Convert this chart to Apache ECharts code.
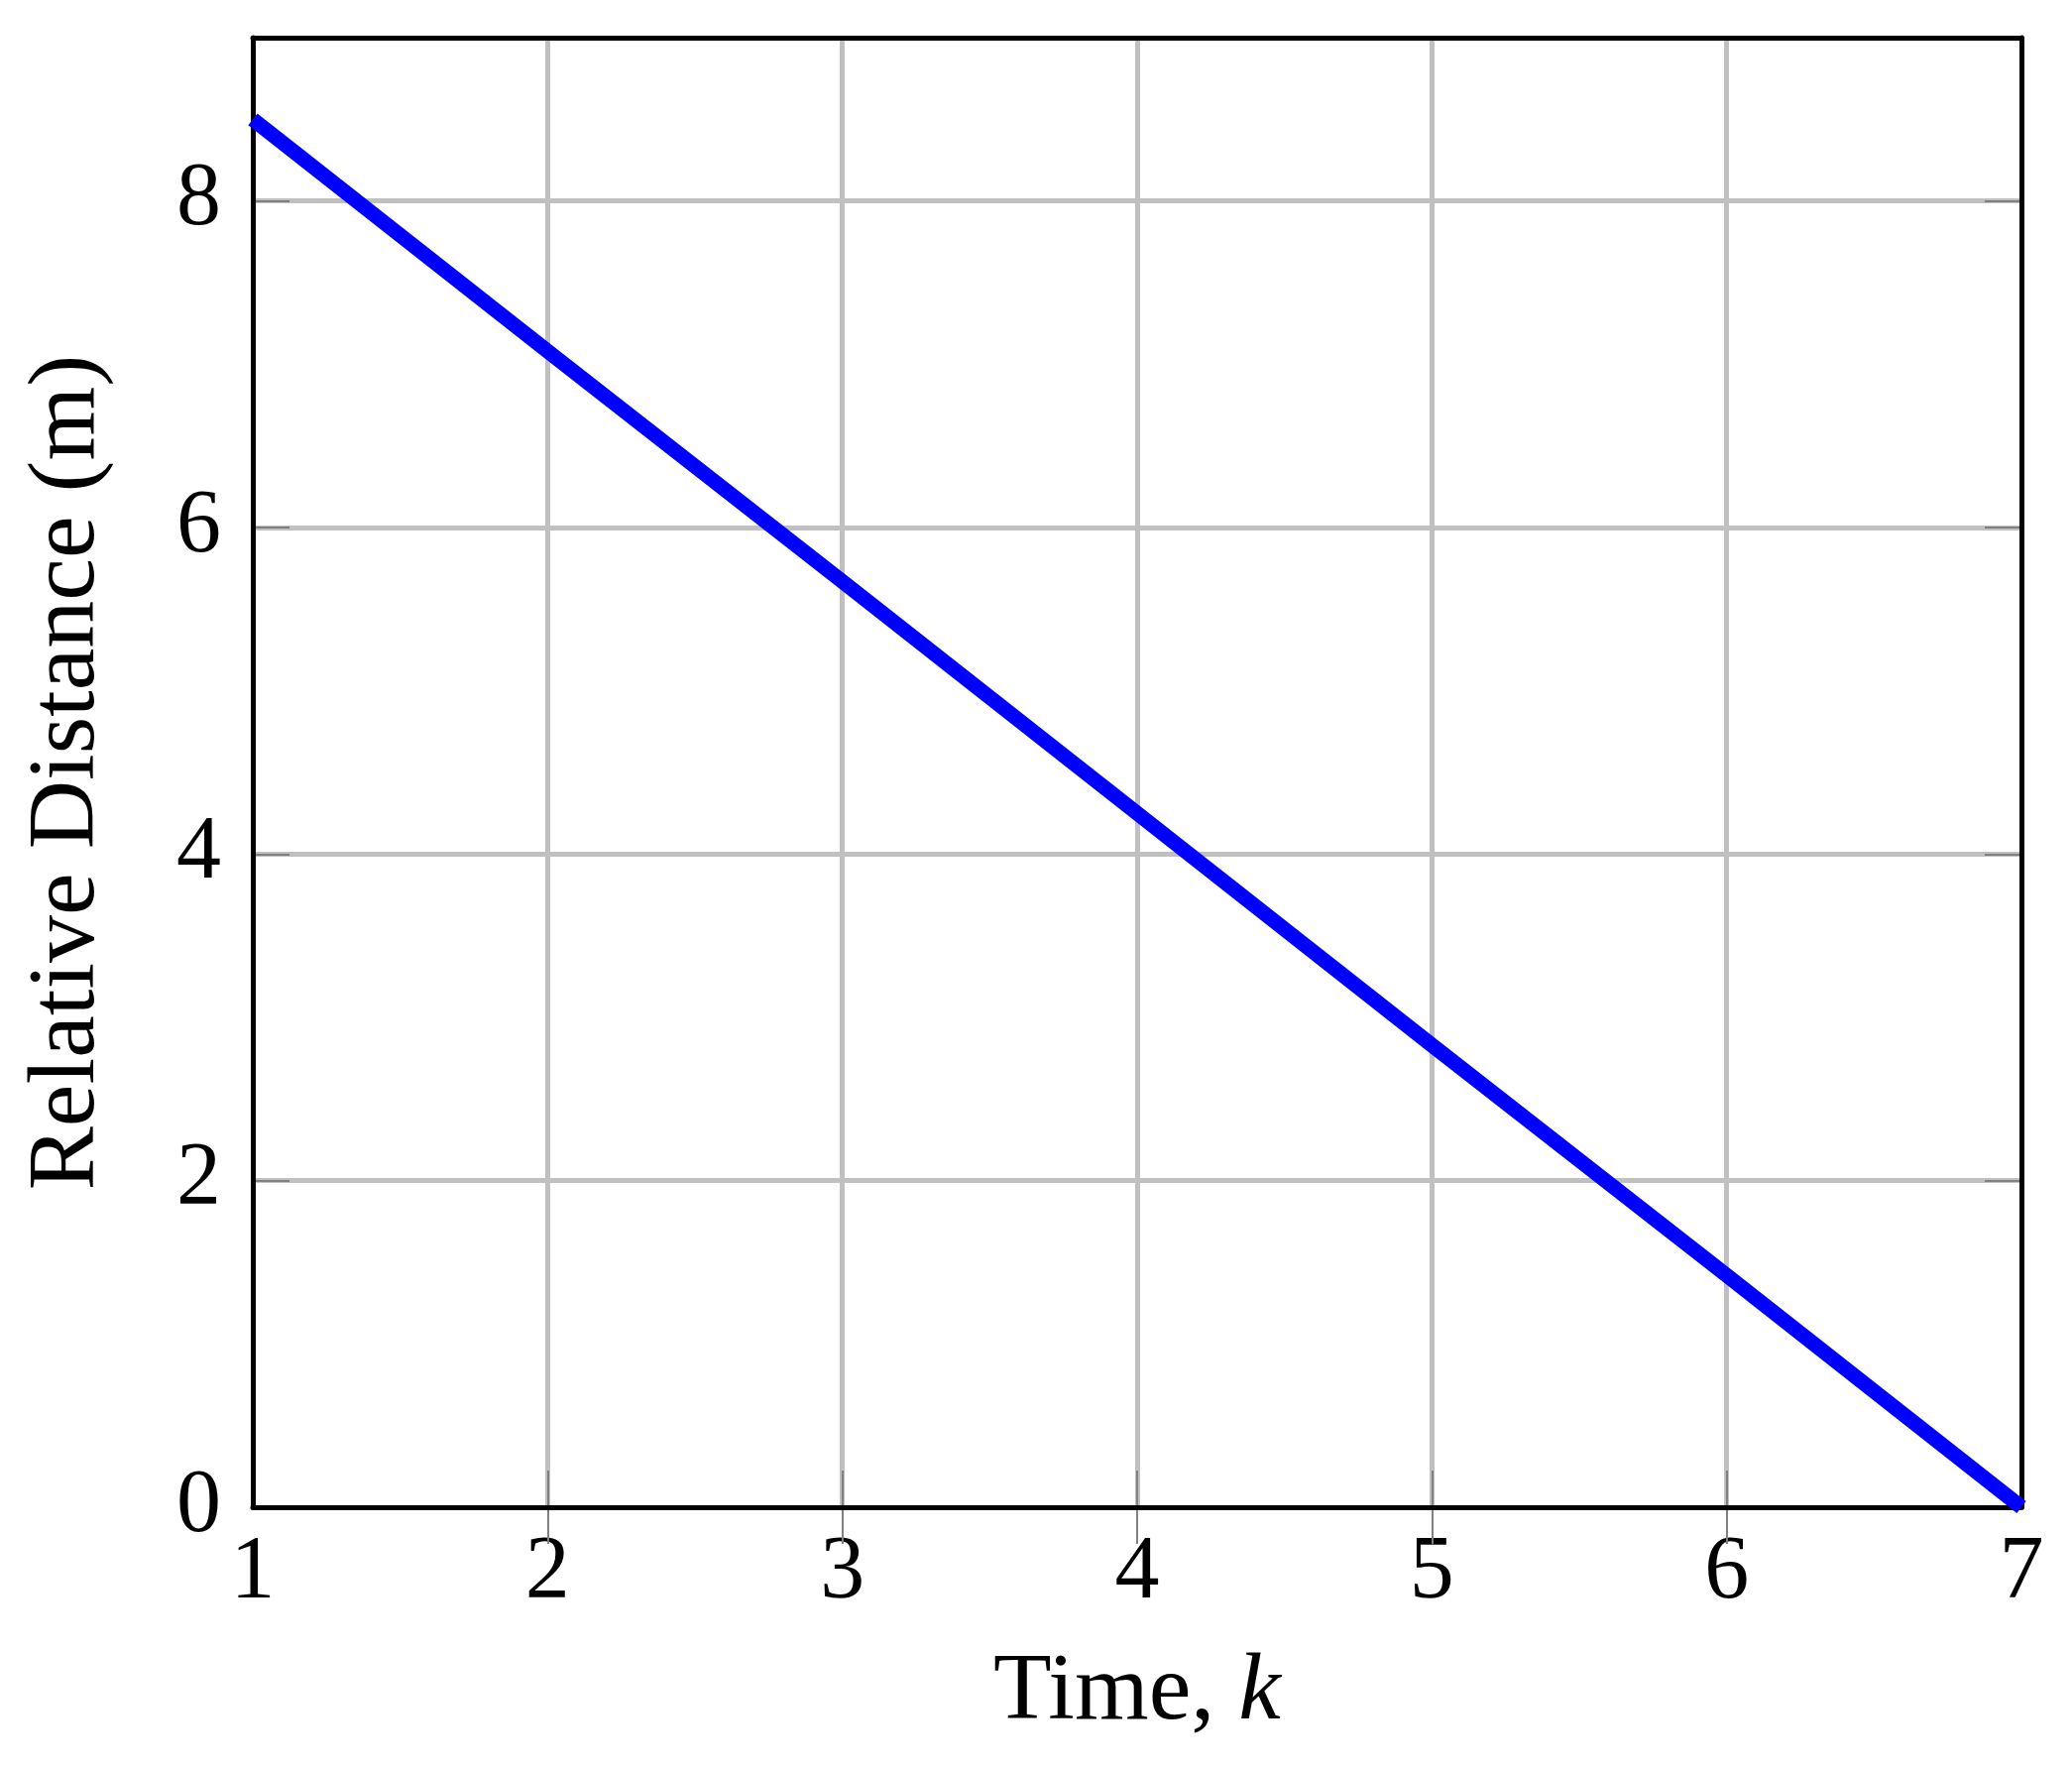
<!DOCTYPE html>
<html>
<head>
    <meta charset="UTF-8">
    <title>Relative Distance</title>
    <script src="https://cdn.jsdelivr.net/npm/echarts@6/dist/echarts.min.js"></script>
</head>
<body style="margin: 0; background: #fff">
    <div id="container" style="width: 2090px; height: 1784px"></div>
    <script type="text/javascript">
        // data
        var kValues = [1, 2, 3, 4, 5, 6, 7];
        var distValues = [8.5, 7.08, 5.67, 4.25, 2.83, 1.42, 0];
        var xTickValues = [1, 2, 3, 4, 5, 6, 7];
        var yTickValues = [0, 2, 4, 6, 8];
        var xInnerTicks = [2, 3, 4, 5, 6];
        var yInnerTicks = [2, 4, 6, 8];

        var fontFamily = 'Liberation Serif';
        var tickColor = '#808080';
        var gridColor = '#c0c0c0';

        var myChart = echarts.init(document.getElementById('container'));

        var lineData = kValues.map((k, i) => [k, distValues[i]]);

        // axes that only draw a frame line on one side
        function frameX(pos) {
            return {
                type: 'value', position: pos, min: 1, max: 7, interval: 1, z: 5,
                axisLine: { show: true, onZero: false, lineStyle: { color: '#000', width: 5 } },
                axisTick: { show: false }, axisLabel: { show: false }, splitLine: { show: false }
            };
        }
        function frameY(pos) {
            return {
                type: 'value', position: pos, min: 0, max: 9, interval: 1, z: 5,
                axisLine: { show: true, onZero: false, lineStyle: { color: '#000', width: 5 } },
                axisTick: { show: false }, axisLabel: { show: false }, splitLine: { show: false }
            };
        }
        function tickX(pos) {
            return {
                type: 'value', position: pos, min: 1, max: 7, interval: 1, z: 1,
                axisLine: { show: false },
                axisTick: { show: true, inside: true, length: 37, customValues: xInnerTicks, lineStyle: { color: tickColor, width: 2 } },
                axisLabel: { show: false }, splitLine: { show: false }
            };
        }
        function tickY(pos) {
            return {
                type: 'value', position: pos, min: 0, max: 9, interval: 1, z: 1,
                axisLine: { show: false },
                axisTick: { show: true, inside: true, length: 37, customValues: yInnerTicks, lineStyle: { color: tickColor, width: 2 } },
                axisLabel: { show: false }, splitLine: { show: false }
            };
        }

        var option = {
            animation: false,
            grid: { left: 255, top: 38, right: 51, bottom: 264 },
            xAxis: [{
                type: 'value', position: 'bottom', min: 1, max: 7, interval: 1, z: 0,
                name: '{a|Time, }{b|k}',
                nameLocation: 'middle',
                nameGap: 140,
                nameTextStyle: {
                    rich: {
                        a: { fontFamily: fontFamily, fontSize: 96, color: '#000' },
                        b: { fontFamily: fontFamily, fontSize: 96, fontStyle: 'italic', color: '#000' }
                    }
                },
                axisLine: { show: false },
                axisTick: { show: false },
                axisLabel: { customValues: xTickValues, margin: 22, fontFamily: fontFamily, fontSize: 90, color: '#000' },
                splitLine: { show: true, lineStyle: { color: gridColor, width: 5 } }
            }, tickX('bottom'), tickX('top'), frameX('bottom'), frameX('top')],
            yAxis: [{
                type: 'value', position: 'left', min: 0, max: 9, interval: 2, z: 0,
                name: 'Relative Distance (m)',
                nameLocation: 'middle',
                nameGap: 138,
                nameTextStyle: { fontFamily: fontFamily, fontSize: 96, color: '#000' },
                axisLine: { show: false },
                axisTick: { show: false },
                axisLabel: { customValues: yTickValues, margin: 32, fontFamily: fontFamily, fontSize: 90, color: '#000' },
                splitLine: { show: true, lineStyle: { color: gridColor, width: 5 } }
            }, tickY('left'), tickY('right'), frameY('left'), frameY('right')],
            series: [{
                type: 'line',
                xAxisIndex: 0,
                yAxisIndex: 0,
                data: lineData,
                symbol: 'none',
                clip: false,
                z: 10,
                lineStyle: { color: '#0000ff', width: 15 }
            }]
        };

        myChart.setOption(option);
    </script>
</body>
</html>
